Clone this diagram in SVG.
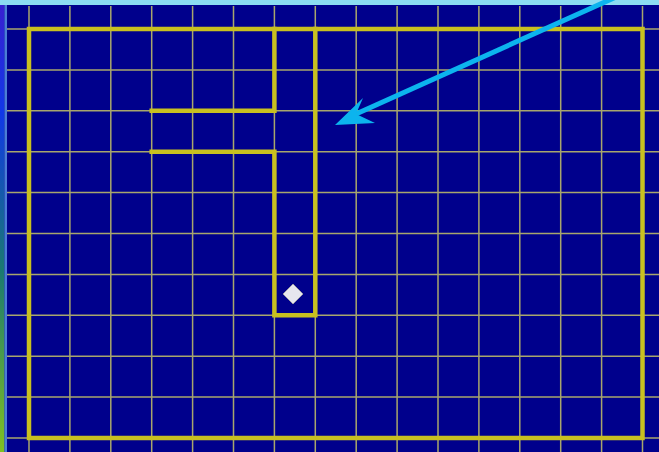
<svg xmlns="http://www.w3.org/2000/svg" width="659" height="452" viewBox="0 0 659 452">
<defs>
<linearGradient id="side" x1="0" y1="0" x2="0" y2="1">
<stop offset="0" stop-color="#3a1ed0"/>
<stop offset="0.25" stop-color="#1038e8"/>
<stop offset="0.6" stop-color="#1a7a70"/>
<stop offset="1" stop-color="#80c020"/>
</linearGradient>
<style>
.g{stroke:#a8a66c;stroke-width:1.5;fill:none}
.w{stroke:#c8c020;stroke-width:4.5;fill:none;stroke-linecap:square}
</style>
</defs>
<rect x="0" y="0" width="659" height="452" fill="#00008c"/>
<rect x="0" y="0" width="4.5" height="452" fill="url(#side)"/>
<rect x="4.5" y="0" width="2.5" height="452" fill="#4a7ed6"/>
<rect x="0" y="0" width="659" height="5" fill="#8cdcf2"/>
<g id="grid" class="g">
<path d="M29 6V452M69.9 6V452M110.8 6V452M151.7 6V452M192.6 6V452M233.5 6V452M274.4 6V452M315.3 6V452M356.2 6V452M397.1 6V452M438 6V452M478.9 6V452M519.8 6V452M560.7 6V452M601.6 6V452M642.5 6V452"/>
<path d="M7 29H659M7 69.9H659M7 110.8H659M7 151.7H659M7 192.6H659M7 233.5H659M7 274.4H659M7 315.3H659M7 356.2H659M7 397.1H659M7 438H659"/>
</g>
<g id="walls" class="w">
<rect x="29" y="29" width="613.5" height="409"/>
<path d="M274.4 29V110.8H151.7"/>
<path d="M151.7 151.7H274.4V315.3H315.3V29"/>
</g>
<g id="marker-node">
<polygon points="293,284 303,294 293,304 283,294" fill="#e6e6ee" stroke="#9a9aa6" stroke-width="1"/>
</g>
<g id="connectors">
<line x1="616" y1="-3" x2="356" y2="114" stroke="#0cb4ee" stroke-width="5"/>
<polygon points="335,125 363,98 356,114 375,123" fill="#0cb4ee"/>
</g>
</svg>
